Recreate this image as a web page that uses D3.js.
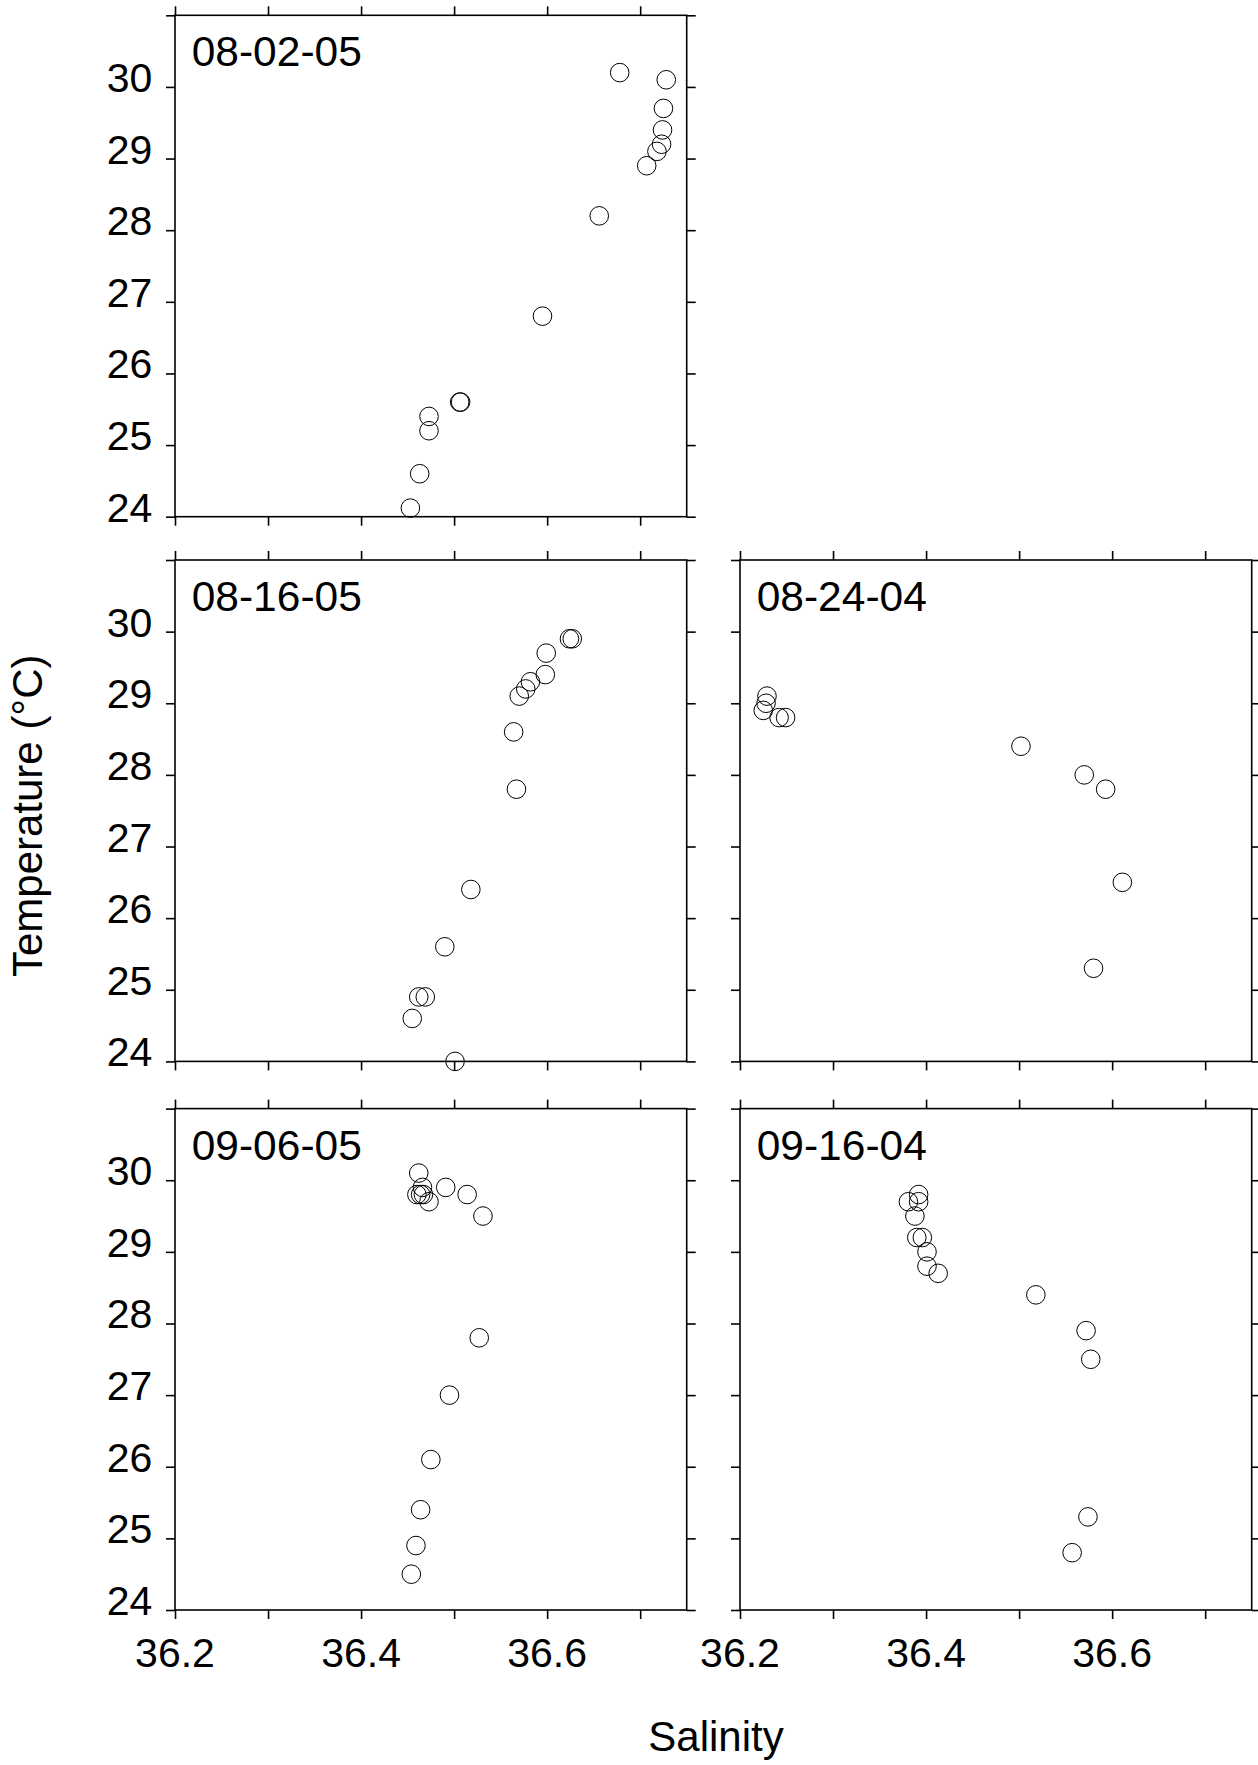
<!DOCTYPE html>
<html lang="en">
<head>
    <meta charset="UTF-8">
    <title>Temperature vs Salinity</title>
    <script src="https://cdnjs.cloudflare.com/ajax/libs/d3/7.8.5/d3.min.js"></script>
    <style>
        body {
            margin: 0;
            background-color: white;
        }
        svg text {
            font-family: "Liberation Sans", Arial, sans-serif;
            fill: black;
        }
    </style>
</head>
<body>
    <div id="chart"></div>

    <script>
        // Panel dates (one per cast)
        const dates = ["08-02-05", "08-16-05", "08-24-04", "09-06-05", "09-16-04"];

        // Salinity / temperature
        const sal080205 = [36.678, 36.728, 36.725, 36.724, 36.723, 36.718, 36.707, 36.656, 36.595, 36.506, 36.507, 36.473, 36.473, 36.463, 36.453];
        const tmp080205 = [30.2, 30.1, 29.7, 29.4, 29.2, 29.1, 28.9, 28.2, 26.8, 25.6, 25.6, 25.4, 25.2, 24.6, 24.12];

        const sal081605 = [36.624, 36.627, 36.599, 36.598, 36.582, 36.577, 36.570, 36.564, 36.567, 36.518, 36.490, 36.462, 36.469, 36.455, 36.501];
        const tmp081605 = [29.9, 29.9, 29.7, 29.4, 29.3, 29.2, 29.1, 28.6, 27.8, 26.4, 25.6, 24.9, 24.9, 24.6, 24.0];

        const sal082404 = [36.229, 36.228, 36.225, 36.242, 36.249, 36.502, 36.570, 36.593, 36.611, 36.580];
        const tmp082404 = [29.1, 29.0, 28.9, 28.8, 28.8, 28.4, 28.0, 27.8, 26.5, 25.3];

        const sal090605 = [36.462, 36.466, 36.460, 36.464, 36.467, 36.473, 36.491, 36.514, 36.531, 36.527, 36.495, 36.475, 36.464, 36.459, 36.454];
        const tmp090605 = [30.1, 29.9, 29.8, 29.8, 29.8, 29.7, 29.9, 29.8, 29.5, 27.8, 27.0, 26.1, 25.4, 24.9, 24.5];

        const sal091604 = [36.392, 36.381, 36.392, 36.388, 36.390, 36.396, 36.401, 36.401, 36.413, 36.518, 36.572, 36.577, 36.574, 36.557];
        const tmp091604 = [29.8, 29.7, 29.7, 29.5, 29.2, 29.2, 29.0, 28.8, 28.7, 28.4, 27.9, 27.5, 25.3, 24.8];

        // Axis ticks
        const xTicks = [36.2, 36.3, 36.4, 36.5, 36.6, 36.7];
        const xTickLabels = [36.2, 36.4, 36.6];
        const yTicks = [24, 25, 26, 27, 28, 29, 30, 31];
        const yTickLabels = [24, 25, 26, 27, 28, 29, 30];

        const salinity = [sal080205, sal081605, sal082404, sal090605, sal091604];
        const temperature = [tmp080205, tmp081605, tmp082404, tmp090605, tmp091604];

        // Layout: grid slot of each panel (col, row)
        const slots = [[0, 0], [0, 1], [1, 1], [0, 2], [1, 2]];
        const colX = [175, 740];
        const rowY = [15.3, 560, 1108.6];
        const width = 511.7;
        const height = 501.4;
        const tickFont = 41;
        const labelFont = 42.5;
        const titleFont = 42;

        const svg = d3.select("#chart")
            .append("svg")
                .attr("width", 1258)
                .attr("height", 1765);

        const x = d3.scaleLinear()
            .domain([36.2, 36.75])
            .range([0, width]);

        const y = d3.scaleLinear()
            .domain([24, 31])
            .range([height, 0]);

        dates.forEach((date, i) => {
            const [col, row] = slots[i];
            const g = svg.append("g")
                .attr("transform", `translate(${colX[col]},${rowY[row]})`);

            const showY = col === 0;
            const showX = row === 2;

            // Ticks on all four sides, pointing outward
            const axes = [
                {axis: d3.axisLeft(y).tickValues(yTicks), t: "translate(0,0)"},
                {axis: d3.axisRight(y).tickValues(yTicks), t: `translate(${width},0)`},
                {axis: d3.axisTop(x).tickValues(xTicks), t: "translate(0,0)"},
                {axis: d3.axisBottom(x).tickValues(xTicks), t: `translate(0,${height})`}
            ];
            axes.forEach(a => {
                const ax = g.append("g")
                    .attr("transform", a.t)
                    .call(a.axis.tickSizeInner(9).tickSizeOuter(0).tickFormat(""));
                ax.select(".domain").remove();
                ax.selectAll("line").attr("stroke", "black").attr("stroke-width", 1.6);
            });

            // Frame
            g.append("rect")
                .attr("width", width)
                .attr("height", height)
                .attr("fill", "none")
                .attr("stroke", "black")
                .attr("stroke-width", 1.6);

            if (showY) {
                g.selectAll(".ylab")
                    .data(yTickLabels)
                    .join("text")
                    .attr("class", "ylab")
                    .attr("x", -22.7)
                    .attr("y", d => y(d) + 5)
                    .attr("text-anchor", "end")
                    .style("font-size", tickFont + "px")
                    .text(d => d);
            }

            if (showX) {
                g.selectAll(".xlab")
                    .data(xTickLabels)
                    .join("text")
                    .attr("class", "xlab")
                    .attr("x", d => x(d))
                    .attr("y", height + 56.7)
                    .attr("text-anchor", "middle")
                    .style("font-size", tickFont + "px")
                    .text(d => d.toFixed(1));
            }

            // Panel label
            g.append("text")
                .attr("x", 16.7)
                .attr("y", 51)
                .style("font-size", labelFont + "px")
                .text(date);

            // Points
            const pts = salinity[i].map((s, k) => ({s, t: temperature[i][k]}));
            g.selectAll("circle")
                .data(pts)
                .join("circle")
                .attr("cx", d => x(d.s))
                .attr("cy", d => y(d.t))
                .attr("r", 9.3)
                .attr("fill", "none")
                .attr("stroke", "black")
                .attr("stroke-width", 1);
        });

        // Axis titles
        svg.append("text")
            .attr("transform", "translate(41.7,815.8) rotate(-90)")
            .attr("text-anchor", "middle")
            .style("font-size", titleFont + "px")
            .text("Temperature (°C)");

        svg.append("text")
            .attr("x", 716)
            .attr("y", 1751)
            .attr("text-anchor", "middle")
            .style("font-size", titleFont + "px")
            .text("Salinity");
    </script>
</body>
</html>
